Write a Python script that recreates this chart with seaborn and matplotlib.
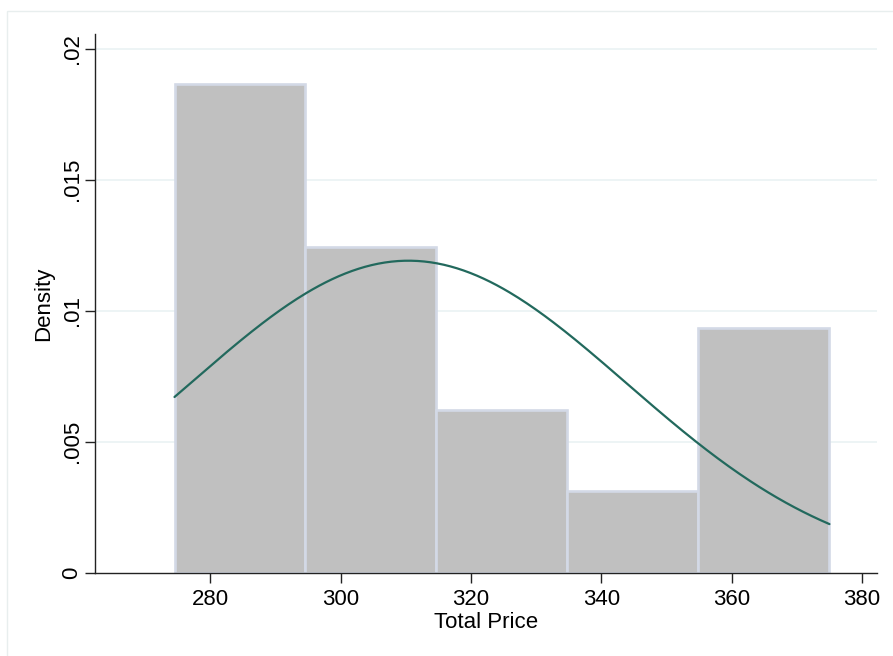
import numpy as np
import pandas as pd
import seaborn as sns
import matplotlib.pyplot as plt
from matplotlib.patches import Rectangle

# binned data (Total Price, 5 bins)
bin_edges = [274.5, 294.6, 314.7, 334.8, 354.9, 375.0]
bin_counts = [6, 4, 2, 1, 3]
# normal overlay parameters
price_mean = 310.4
price_sd = 33.5

y_ticks = [0, 0.005, 0.01, 0.015, 0.02]
y_ticklabels = ['0', '.005', '.01', '.015', '.02']
x_ticks = [280, 300, 320, 340, 360, 380]

mids = [(bin_edges[i] + bin_edges[i + 1]) / 2 for i in range(len(bin_counts))]
df = pd.DataFrame({'price': mids, 'n': bin_counts})

sns.set_style('white')
plt.rcParams['font.family'] = ['Liberation Sans', 'DejaVu Sans']
plt.rcParams['text.color'] = 'black'
plt.rcParams['axes.labelcolor'] = 'black'
plt.rcParams['xtick.color'] = 'black'
plt.rcParams['ytick.color'] = 'black'

fig = plt.figure(figsize=(8.93, 6.56), dpi=100)
# light outer frame like the Stata graph region
fig.patches.append(Rectangle((6.5 / 893, -0.1), 1.2, (656 - 11) / 656 + 0.1,
                             transform=fig.transFigure, fill=False,
                             edgecolor='#e8eeee', linewidth=1, zorder=0))

ax = fig.add_axes([95 / 893, (656 - 572.7) / 656, (876.7 - 95) / 893, (572.7 - 34.3) / 656])

sns.histplot(data=df, x='price', weights='n', bins=bin_edges, stat='density',
             color='#c0c0c0', alpha=1, edgecolor='#d3d9e6', linewidth=1.9, ax=ax, zorder=2)

xs = np.linspace(bin_edges[0], bin_edges[-1], 300)
pdf = np.exp(-0.5 * ((xs - price_mean) / price_sd) ** 2) / (price_sd * np.sqrt(2 * np.pi))
sns.lineplot(x=xs, y=pdf, color='#22695d', linewidth=1.6, ax=ax, zorder=3)

for yv in y_ticks[1:]:
    ax.axhline(yv, color='#eaf2f3', linewidth=1.2, zorder=1)

ax.set_xlim(262.3, 382.25)
ax.set_ylim(0, 0.02055)
ax.set_xticks(x_ticks)
ax.set_yticks(y_ticks)
ax.set_yticklabels(y_ticklabels, rotation=90, va='center')

for s in ['top', 'right']:
    ax.spines[s].set_visible(False)
for s in ['left', 'bottom']:
    ax.spines[s].set_color('#222222')
    ax.spines[s].set_linewidth(1.0)

ax.tick_params(axis='both', bottom=True, left=True, length=7, width=1,
               color='#222222', labelcolor='black', labelsize=16, direction='out')
ax.tick_params(axis='x', pad=5)
ax.tick_params(axis='y', pad=2)

ax.set_xlabel('Total Price', fontsize=16, labelpad=1)
ax.set_ylabel('Density', fontsize=16, labelpad=5)

fig.savefig('out.png', dpi=100)
